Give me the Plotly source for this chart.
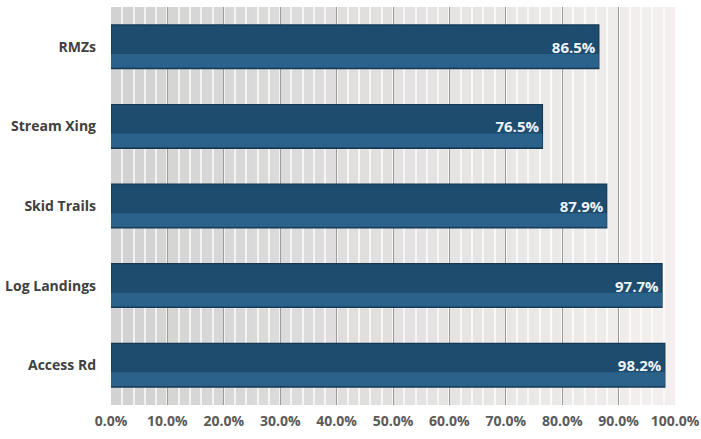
import plotly.graph_objects as go

# Share of practices meeting the standard, by category
categories = ["Access Rd", "Log Landings", "Skid Trails", "Stream Xing", "RMZs"]
values = [0.982, 0.977, 0.879, 0.765, 0.865]
tick_vals = [i / 10 for i in range(11)]
tick_text = [f"{v * 100:.1f}%" for v in tick_vals]

fig = go.Figure()

# main bar body
fig.add_trace(go.Bar(
    y=categories, x=values, orientation="h",
    width=0.55,
    marker=dict(color="#1e4c6e", line=dict(color="#143853", width=1.2)),
    texttemplate="%{x:.1%}", textposition="inside", insidetextanchor="end",
    textfont=dict(family="Open Sans", size=15, color="#eef3f7", weight="bold"),
    hoverinfo="skip", showlegend=False,
))
# lighter lower bevel of each bar
fig.add_trace(go.Bar(
    y=categories, x=values, orientation="h",
    width=0.17, offset=-0.26,
    marker=dict(color="#2b628b", line=dict(width=0)),
    hoverinfo="skip", showlegend=False,
))

# soft left-to-right gradient behind the plot
n = 24
for k in range(n):
    t = k / (n - 1)
    c0, c1 = (210, 210, 210), (242, 239, 238)
    col = tuple(round(a + (b - a) * t) for a, b in zip(c0, c1))
    fig.add_shape(type="rect", xref="x domain", yref="y domain",
                  x0=k / n, x1=(k + 1) / n, y0=0, y1=1,
                  fillcolor=f"rgb{col}", line=dict(width=0), layer="below")

fig.update_layout(
    width=701, height=439,
    margin=dict(l=111, r=26, t=7, b=34, autoexpand=False),
    paper_bgcolor="white", plot_bgcolor="#dcdcdc",
    barmode="overlay",
    xaxis=dict(
        range=[0, 1], tickvals=tick_vals, ticktext=tick_text,
        showgrid=True, gridcolor="#9c9c9c", gridwidth=1,
        minor=dict(dtick=0.02, showgrid=True, gridcolor="rgba(255,255,255,0.7)", gridwidth=2),
        zeroline=False, showline=False, automargin=False,
        tickfont=dict(family="Open Sans", size=14, color="#5a5a5a", weight="bold"),
        ticklabelstandoff=6, fixedrange=True,
    ),
    yaxis=dict(
        categoryorder="array", categoryarray=categories,
        range=[-0.5, 4.5], showgrid=False, zeroline=False, showline=False,
        automargin=False,
        tickfont=dict(family="Open Sans", size=14, color="#404040", weight="bold"),
        ticklabelstandoff=14, fixedrange=True,
    ),
)

fig.write_html("out.html")
